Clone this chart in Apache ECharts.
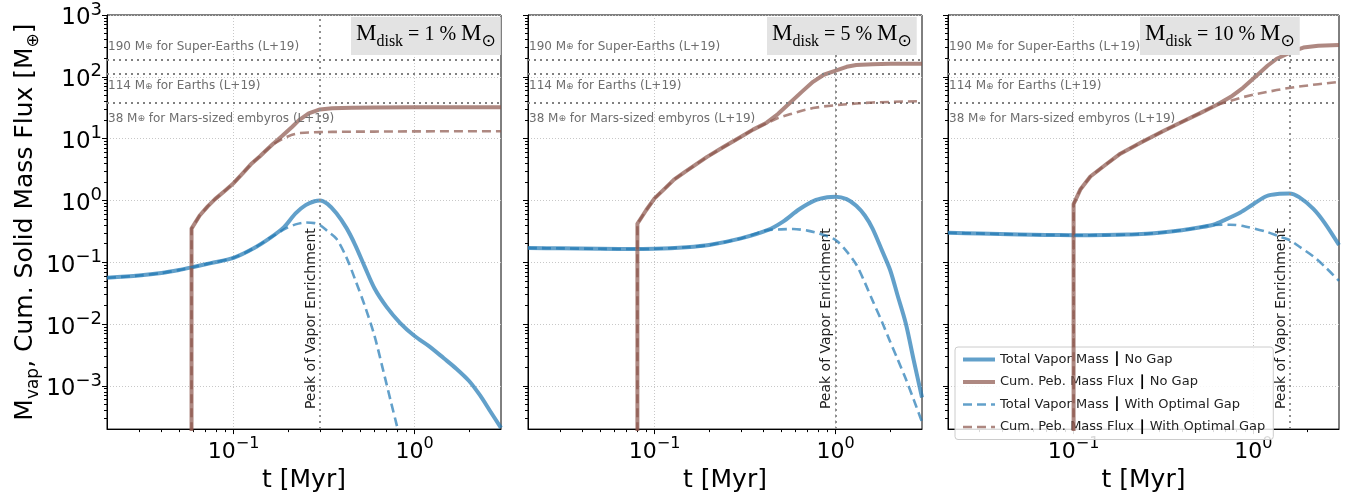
<!DOCTYPE html>
<html>
<head>
<meta charset="utf-8">
<script src="https://cdn.jsdelivr.net/npm/echarts@6/dist/echarts.min.js"></script>
<style>
  html, body { margin: 0; padding: 0; background: #ffffff; }
  #chart { width: 1356px; height: 498px; }
</style>
</head>
<body>
<div id="chart"></div>
<script>
// ---- axes ----
const X_MIN = 0.02, X_MAX = 3;
const Y_MIN = 2e-4, Y_MAX = 1000;
const X_MAJOR = [0.1, 1];
const X_MINOR = [0.03, 0.04, 0.05, 0.06, 0.07, 0.08, 0.09, 0.2, 0.3, 0.4, 0.5, 0.6, 0.7, 0.8, 0.9, 2];
const Y_MAJOR = [1e-3, 1e-2, 1e-1, 1, 10, 100, 1000];
const Y_MINOR = [3e-4, 4e-4, 5e-4, 6e-4, 7e-4, 8e-4, 9e-4,
  2e-3, 3e-3, 4e-3, 5e-3, 6e-3, 7e-3, 8e-3, 9e-3,
  0.02, 0.03, 0.04, 0.05, 0.06, 0.07, 0.08, 0.09,
  0.2, 0.3, 0.4, 0.5, 0.6, 0.7, 0.8, 0.9,
  2, 3, 4, 5, 6, 7, 8, 9,
  20, 30, 40, 50, 60, 70, 80, 90,
  200, 300, 400, 500, 600, 700, 800, 900];

// ---- panel annotations ----
const DISK_PERCENT = ['1', '5', '10'];
const PEAK_T = [0.3, 1.0, 1.6];
const REF_MASS = [190, 114, 38];
const REF_TEXT = ['Super-Earths', 'Earths', 'Mars-sized embyros'];
const SERIES_NAMES = [
  'Total Vapor Mass | No Gap',
  'Cum. Peb. Mass Flux | No Gap',
  'Total Vapor Mass | With Optimal Gap',
  'Cum. Peb. Mass Flux | With Optimal Gap'
];

// ---- M_disk = 1 % ----
const T1_VAP = [0.02, 0.03, 0.04, 0.05, 0.06, 0.075, 0.1, 0.13, 0.16, 0.19, 0.22, 0.25, 0.28, 0.3, 0.33, 0.37, 0.42, 0.47, 0.53, 0.6, 0.7, 0.83, 1.0, 1.2, 1.45, 1.7, 2.0, 2.3, 2.6, 3.0];
const VAP1_NOGAP = [0.056, 0.061, 0.067, 0.075, 0.084, 0.097, 0.118, 0.17, 0.25, 0.37, 0.62, 0.84, 0.97, 1.0, 0.88, 0.62, 0.36, 0.19, 0.085, 0.038, 0.019, 0.0105, 0.0064, 0.0044, 0.0028, 0.0019, 0.0012, 0.0007, 0.0004, 0.00021];
const T1_VAP_GAP = [0.02, 0.03, 0.04, 0.05, 0.06, 0.075, 0.1, 0.13, 0.16, 0.19, 0.22, 0.25, 0.28, 0.3, 0.33, 0.37, 0.42, 0.47, 0.53, 0.6, 0.67, 0.74, 0.8, 0.85];
const VAP1_GAP = [0.056, 0.061, 0.067, 0.075, 0.084, 0.097, 0.118, 0.17, 0.25, 0.34, 0.41, 0.44, 0.43, 0.40, 0.32, 0.24, 0.12, 0.052, 0.02, 0.0065, 0.0018, 0.00055, 0.00022, 0.0001];
const T1_PEB = [0.0586, 0.0586, 0.065, 0.072, 0.079, 0.09, 0.1, 0.113, 0.126, 0.14, 0.15, 0.165, 0.186, 0.211, 0.23, 0.26, 0.3, 0.35, 0.45, 0.6, 1.0, 2.0, 3.0];
const PEB1_NOGAP = [1e-6, 0.35, 0.57, 0.8, 1.05, 1.45, 1.9, 2.8, 3.97, 5.2, 6.3, 8.2, 11.1, 15.6, 19.9, 25.7, 29.7, 31, 31.7, 32, 32.2, 32.3, 32.3];
const PEB1_GAP = [1e-6, 0.35, 0.57, 0.8, 1.05, 1.45, 1.9, 2.8, 3.97, 5.2, 6.3, 8.1, 9.9, 11.6, 12.3, 12.6, 12.75, 12.85, 12.95, 13.0, 13.1, 13.2, 13.2];

// ---- M_disk = 5 % ----
const T2_VAP = [0.02, 0.03, 0.05, 0.08, 0.1, 0.15, 0.2, 0.3, 0.42, 0.51, 0.63, 0.78, 0.9, 1.0, 1.15, 1.3, 1.45, 1.6, 1.8, 2.0, 2.2, 2.44, 2.7, 3.0];
const VAP2_NOGAP = [0.17, 0.168, 0.165, 0.164, 0.165, 0.175, 0.19, 0.243, 0.33, 0.45, 0.72, 1.02, 1.13, 1.15, 1.05, 0.82, 0.57, 0.35, 0.157, 0.075, 0.029, 0.0103, 0.0026, 0.00065];
const T2_VAP_GAP = [0.02, 0.03, 0.05, 0.08, 0.1, 0.15, 0.2, 0.3, 0.42, 0.5, 0.583, 0.7, 0.817, 1.0, 1.15, 1.3, 1.45, 1.6, 1.8, 1.98, 2.2, 2.44, 2.7, 3.0];
const VAP2_GAP = [0.17, 0.168, 0.165, 0.164, 0.165, 0.175, 0.19, 0.243, 0.33, 0.34, 0.345, 0.325, 0.29, 0.229, 0.15, 0.092, 0.047, 0.024, 0.011, 0.0056, 0.0027, 0.0013, 0.0006, 0.00026];
const T2_PEB = [0.0804, 0.0804, 0.09, 0.1, 0.115, 0.128, 0.15, 0.195, 0.24, 0.297, 0.35, 0.416, 0.48, 0.558, 0.65, 0.75, 0.86, 1.0, 1.15, 1.3, 1.6, 2.0, 3.0];
const PEB2_NOGAP = [1e-6, 0.42, 0.7, 1.08, 1.6, 2.17, 3.0, 5.07, 7.3, 10.5, 14, 18.1, 25, 37.6, 57, 83, 108, 126, 145, 155, 160, 162, 163];
const PEB2_GAP = [1e-6, 0.42, 0.7, 1.08, 1.6, 2.17, 3.0, 5.07, 7.3, 10.5, 14, 17.8, 21.5, 24.7, 28.3, 31.3, 33.2, 34.6, 36, 37, 38.5, 39.3, 40.5];

// ---- M_disk = 10 % ----
const T3_VAP = [0.02, 0.03, 0.05, 0.07, 0.1, 0.15, 0.2, 0.256, 0.3, 0.4, 0.5, 0.6, 0.7, 0.847, 1.0, 1.19, 1.4, 1.59, 1.8, 2.16, 2.5, 3.0];
const VAP3_NOGAP = [0.30, 0.292, 0.282, 0.277, 0.274, 0.275, 0.28, 0.29, 0.30, 0.33, 0.365, 0.405, 0.49, 0.64, 0.87, 1.18, 1.28, 1.3, 1.13, 0.73, 0.43, 0.19];
const T3_VAP_GAP = [0.02, 0.03, 0.05, 0.07, 0.1, 0.15, 0.2, 0.256, 0.3, 0.4, 0.5, 0.6, 0.745, 0.9, 1.19, 1.4, 1.59, 1.8, 2.16, 2.5, 3.0];
const VAP3_GAP = [0.30, 0.292, 0.282, 0.277, 0.274, 0.275, 0.28, 0.29, 0.30, 0.33, 0.365, 0.4, 0.405, 0.38, 0.31, 0.26, 0.229, 0.18, 0.124, 0.085, 0.05];
const T3_PEB = [0.1, 0.1, 0.109, 0.124, 0.15, 0.182, 0.24, 0.318, 0.4, 0.5, 0.628, 0.75, 0.88, 1.05, 1.2, 1.35, 1.5, 1.7, 1.9, 2.3, 3.0];
const PEB3_NOGAP = [1e-6, 0.87, 1.5, 2.44, 3.75, 5.7, 8.8, 13.4, 18.6, 25.4, 35.3, 47.5, 67, 106, 151, 196, 225, 265, 297, 318, 328];
const PEB3_GAP = [1e-6, 0.87, 1.5, 2.44, 3.75, 5.7, 8.8, 13.4, 18.6, 25.4, 35.3, 41, 47, 53, 57, 61, 64.5, 68, 71, 76, 83];

const PANELS = [
  { vap: [T1_VAP, VAP1_NOGAP], peb: [T1_PEB, PEB1_NOGAP], vapGap: [T1_VAP_GAP, VAP1_GAP], pebGap: [T1_PEB, PEB1_GAP] },
  { vap: [T2_VAP, VAP2_NOGAP], peb: [T2_PEB, PEB2_NOGAP], vapGap: [T2_VAP_GAP, VAP2_GAP], pebGap: [T2_PEB, PEB2_GAP] },
  { vap: [T3_VAP, VAP3_NOGAP], peb: [T3_PEB, PEB3_NOGAP], vapGap: [T3_VAP_GAP, VAP3_GAP], pebGap: [T3_PEB, PEB3_GAP] }
];

// ---- layout & style ----
const GRID_LEFT = [107, 528, 948];
const GRID_WIDTH = [394, 394, 391];
const GRID_TOP = 15, GRID_HEIGHT = 423;
const BOX_LEFT = [351, 767, 1140];
const BLUE = 'rgba(31,119,180,0.7)';
const BROWN = 'rgba(140,86,75,0.7)';
const SOLID_W = 4, DASH_W = 2.6, DASH = [9, 5];
const SANS = 'DejaVu Sans';
const SERIF = 'Liberation Serif';

function pairs(xs, ys) { return xs.map((x, i) => [x, ys[i]]); }

function powLabel(v) {
  const e = Math.round(Math.log10(v));
  if (Math.abs(Math.log10(v) - e) > 1e-6) return '';
  return '{b|10}{sup|' + (e < 0 ? '\u2212' + (-e) : String(e)) + '}';
}
function powRich(base, sup, lift) {
  return {
    b: { fontSize: base, fontFamily: SANS, color: '#000', verticalAlign: 'bottom', lineHeight: 30 },
    sup: { fontSize: sup, fontFamily: SANS, color: '#000', verticalAlign: 'bottom', lineHeight: 30, padding: [0, 0, lift, 0] }
  };
}

const grids = [], xAxes = [], yAxes = [], series = [], titles = [];

for (let i = 0; i < 3; i++) {
  grids.push({
    left: GRID_LEFT[i], top: GRID_TOP, width: GRID_WIDTH[i], height: GRID_HEIGHT,
    show: true, borderColor: '#000', borderWidth: 1, backgroundColor: 'transparent'
  });
}
// main axes 0..2, minor tick axes 3..5
for (let i = 0; i < 3; i++) {
  xAxes.push({
    type: 'log', logBase: 10, gridIndex: i, min: X_MIN, max: X_MAX, position: 'bottom',
    axisLine: { show: true, lineStyle: { color: '#000', width: 1 } },
    axisTick: { show: true, inside: false, length: 5, customValues: X_MAJOR, lineStyle: { color: '#000', width: 1 } },
    axisLabel: { show: true, customValues: X_MAJOR, formatter: powLabel, rich: powRich(22, 16, 11), margin: 4 },
    splitLine: { show: true, lineStyle: { color: '#c8c8c8', type: [1, 2], width: 1 } },
    name: 't [Myr]', nameLocation: 'middle', nameGap: 36,
    nameTextStyle: { fontSize: 25, fontFamily: SANS, color: '#000' }
  });
  yAxes.push({
    type: 'log', logBase: 10, gridIndex: i, min: Y_MIN, max: Y_MAX, position: 'left',
    axisLine: { show: true, lineStyle: { color: '#000', width: 1 } },
    axisTick: { show: true, inside: false, length: 5, customValues: Y_MAJOR, lineStyle: { color: '#000', width: 1 } },
    axisLabel: { show: i === 0, customValues: Y_MAJOR, formatter: powLabel, rich: powRich(23, 18, 11), margin: 5 },
    splitLine: { show: true, lineStyle: { color: '#c8c8c8', type: [1, 2], width: 1 } },
    name: i === 0 ? 'M{sub|vap}, Cum. Solid Mass Flux [M{sub|\u2295}]' : '',
    nameLocation: 'middle', nameGap: 66,
    nameTextStyle: {
      fontSize: 25, fontFamily: SANS, color: '#000',
      rich: { sub: { fontSize: 17, fontFamily: SANS, color: '#000', verticalAlign: 'bottom', padding: [0, 0, -4, 0] } }
    }
  });
}
for (let i = 0; i < 3; i++) {
  xAxes.push({
    type: 'log', logBase: 10, gridIndex: i, min: X_MIN, max: X_MAX, position: 'bottom',
    axisLine: { show: false },
    axisTick: { show: true, inside: false, length: 3, customValues: X_MINOR, lineStyle: { color: '#000', width: 1 } },
    axisLabel: { show: false }, splitLine: { show: false }
  });
  yAxes.push({
    type: 'log', logBase: 10, gridIndex: i, min: Y_MIN, max: Y_MAX, position: 'left',
    axisLine: { show: false },
    axisTick: { show: true, inside: false, length: 3, customValues: Y_MINOR, lineStyle: { color: '#000', width: 1 } },
    axisLabel: { show: false }, splitLine: { show: false }
  });
}

for (let i = 0; i < 3; i++) {
  const p = PANELS[i];
  const refLines = REF_MASS.map((m, k) => ({
    yAxis: m,
    lineStyle: { color: '#808080', type: [2, 4], width: 2, cap: 'butt' },
    label: {
      show: true,
      position: k === 0 ? 'insideStartTop' : 'insideStartBottom',
      formatter: m + ' M{s|\u2295} for ' + REF_TEXT[k] + ' (L+19)',
      color: '#6e6e6e', fontSize: 12, fontFamily: SANS,
      distance: [1, [7, 7, 10][k]],
      rich: { s: { fontSize: 9, color: '#6e6e6e', fontFamily: SANS } }
    }
  }));
  // dotted reference lines and the peak marker sit under the curves
  series.push({
    type: 'line', name: 'refs' + i, xAxisIndex: i, yAxisIndex: i, data: [], z: 1, silent: true,
    markLine: {
      silent: true, symbol: ['none', 'none'], animation: false,
      data: refLines.concat([{
        xAxis: PEAK_T[i],
        lineStyle: { color: '#909090', type: [2, 4], width: 2, cap: 'butt' },
        label: {
          show: true, position: 'insideStartTop', formatter: 'Peak of Vapor Enrichment',
          color: '#222', fontSize: 14, fontFamily: SANS, distance: [20, 2]
        }
      }])
    }
  });
  const lines = [
    [SERIES_NAMES[0], p.vap, BLUE, 'solid', SOLID_W, true],
    [SERIES_NAMES[1], p.peb, BROWN, 'solid', SOLID_W, false],
    [SERIES_NAMES[2], p.vapGap, BLUE, DASH, DASH_W, true],
    [SERIES_NAMES[3], p.pebGap, BROWN, DASH, DASH_W, false]
  ];
  lines.forEach((d, k) => {
    series.push({
      type: 'line', name: d[0], xAxisIndex: i, yAxisIndex: i, z: 3 + k,
      data: pairs(d[1][0], d[1][1]),
      showSymbol: false, symbol: 'none', smooth: d[5] ? 0.3 : false, clip: true,
      lineStyle: { color: d[2], type: d[3], width: d[4], cap: 'butt', join: 'round' },
      itemStyle: { color: d[2] },
      emphasis: { disabled: true }
    });
  });
  titles.push({
    text: '{m|M}{s|disk}{t| = ' + DISK_PERCENT[i] + ' % }{m|M}{o|\u2299}',
    left: BOX_LEFT[i], top: 15,
    backgroundColor: '#e3e3e3', padding: [5, 5, 5, 5],
    textStyle: {
      fontWeight: 'normal',
      rich: {
        m: { fontSize: 23, fontFamily: SERIF, fontWeight: 'normal', color: '#000', verticalAlign: 'bottom', lineHeight: 25 },
        s: { fontSize: 16, fontFamily: SERIF, fontWeight: 'normal', color: '#000', verticalAlign: 'bottom', lineHeight: 25, padding: [0, 0, -5, 0] },
        t: { fontSize: 20, fontFamily: SERIF, fontWeight: 'normal', color: '#000', verticalAlign: 'bottom', lineHeight: 25 },
        o: { fontSize: 17, fontFamily: SANS, fontWeight: 'normal', color: '#000', verticalAlign: 'bottom', lineHeight: 25, padding: [0, 0, -5, 0] }
      }
    }
  });
}

const legendItems = SERIES_NAMES.map((name, k) => ({
  name: name,
  lineStyle: { width: k < 2 ? SOLID_W : DASH_W, type: k < 2 ? 'solid' : DASH, color: k % 2 === 0 ? BLUE : BROWN },
  itemStyle: { opacity: 0 }
}));

const chart = echarts.init(document.getElementById('chart'), null, { renderer: 'canvas' });
chart.setOption({
  animation: false,
  backgroundColor: '#ffffff',
  title: titles,
  grid: grids,
  xAxis: xAxes,
  yAxis: yAxes,
  legend: {
    data: legendItems,
    left: 955, top: 347, orient: 'vertical',
    itemWidth: 32, itemHeight: 12, itemGap: 7.5,
    padding: [5, 8, 5, 6],
    backgroundColor: 'rgba(255,255,255,0.85)',
    borderColor: '#cccccc', borderWidth: 1, borderRadius: 3,
    selectedMode: false,
    itemStyle: { opacity: 0 },
    formatter: name => name.replace(' | ', ' {bar|\u2223} '),
    textStyle: {
      fontSize: 13, fontFamily: SANS, color: '#222',
      rich: { bar: { fontSize: 15, fontWeight: 'bold', color: '#000', fontFamily: SANS } }
    }
  },
  series: series
});
</script>
</body>
</html>
